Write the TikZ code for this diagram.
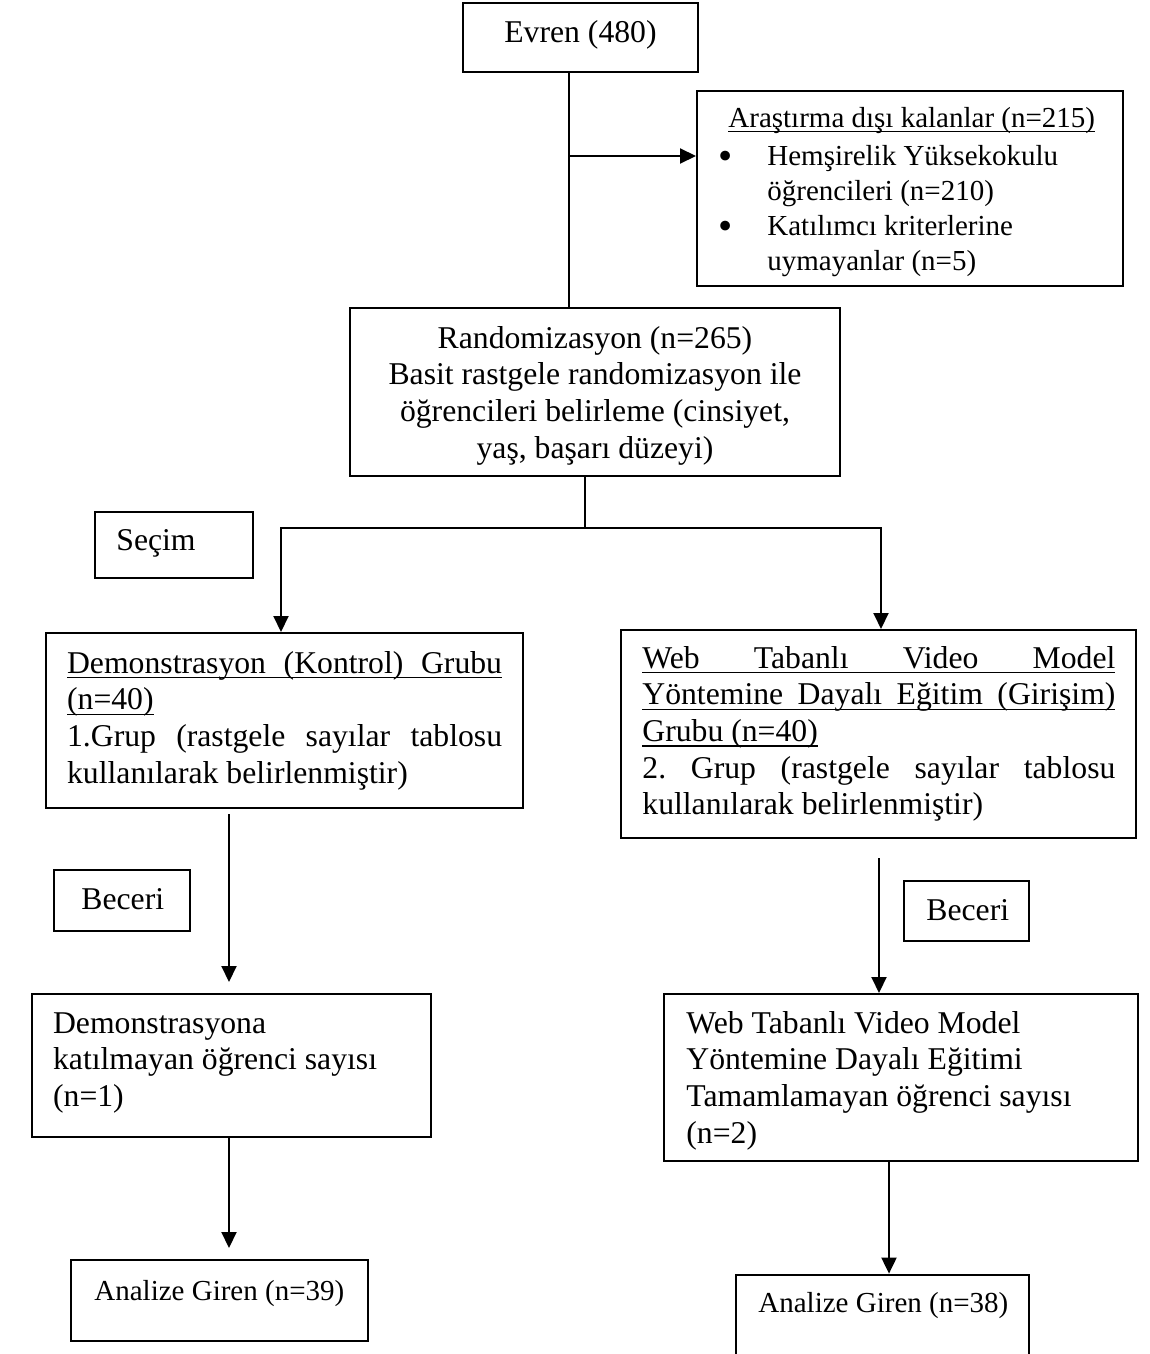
\documentclass[tikz,border=0pt]{standalone}
\usepackage{fontspec}
\usepackage{graphicx}
\setmainfont{Liberation Serif}
\usetikzlibrary{arrows.meta,calc}
\newcommand\fa{\fontsize{15.85pt}{18.35pt}\selectfont}
\newcommand\fb{\fontsize{14.5pt}{17.5pt}\selectfont}
\newcommand\myul[1]{\setbox0=\hbox{#1}\rlap{\rule[-2.7pt]{\wd0}{0.75pt}}\box0}
\newcommand\vlines[1]{\vtop{\lineskiplimit=-100pt\relax #1}}
\newcommand\bul{\hbox to 24pt{\hskip-0.6pt\raisebox{-2.4pt}{\scalebox{1.4}{•}}\hfil}}
\newcommand\mkbox[5]{\node[boxst, minimum width={((#4)-(#2))*0.5pt}, minimum height={((#5)-(#3))*0.5pt}] (#1) at ({((#2)+(#4))/2},{((#3)+(#5))/2}) {};}
\begin{document}
\begin{tikzpicture}[x=0.5pt, y=-0.5pt,
  boxst/.style={draw, line width=1pt, inner sep=0pt, rectangle},
  txt/.style={inner sep=0pt, font=\fa},
  ln/.style={line width=1pt},
  thinln/.style={line width=0.55pt},
  arr/.style={line width=1pt, -{Triangle[length=8pt,width=7.5pt]}}]
\fill[white] (0,0) rectangle (1150,1354);
\useasboundingbox (0,0) rectangle (1150,1354);

% boxes
\mkbox{evren}{463}{3}{698}{72}
\node[txt, anchor=base] (evrent) at (580.5,42.7) {Evren (480)};

\mkbox{arast}{697}{91}{1123}{285.5}
\node[txt, font=\fb, anchor=base west] (arasth) at (728,127) {\myul{Araştırma dışı kalanlar (n=215)}};
\node[txt, font=\fb, anchor=base west] (arastl) at (719,165) {\vlines{%
\hbox{\bul Hemşirelik Yüksekokulu}
\hbox{\kern24pt öğrencileri (n=210)}
\hbox{\bul Katılımcı kriterlerine}
\hbox{\kern24pt uymayanlar (n=5)}}};

\mkbox{rand}{350}{308}{840}{476}
\node[txt, anchor=base] (randt) at (595,348) {\vlines{%
\hbox to 230pt{\hfil Randomizasyon (n=265)\hfil}
\hbox to 230pt{\hfil Basit rastgele randomizasyon ile\hfil}
\hbox to 230pt{\hfil öğrencileri belirleme (cinsiyet,\hfil}
\hbox to 230pt{\hfil yaş, başarı düzeyi)\hfil}}};

\mkbox{secim}{95}{512}{253}{578}
\node[txt, anchor=base west] (secimt) at (116,550) {Seçim};

\mkbox{demo}{46}{633}{523}{808}
\node[txt, anchor=base west] (demot) at (66.7,673) {\vlines{%
\hbox{\myul{\hbox to 217.5pt{Demonstrasyon\hfill (Kontrol)\hfill Grubu}}}
\hbox{\myul{(n=40)}}
\hbox to 217.5pt{1.Grup\hfill (rastgele\hfill sayılar\hfill tablosu}
\hbox{kullanılarak belirlenmiştir)}}};

\mkbox{web}{621}{630}{1136}{837.5}
\node[txt, anchor=base west] (webt) at (642,668) {\vlines{%
\hbox{\myul{\hbox to 236.5pt{Web\hfill Tabanlı\hfill Video\hfill Model}}}
\hbox{\myul{\hbox to 236.5pt{Yöntemine\hfill Dayalı\hfill Eğitim\hfill (Girişim)}}}
\hbox{\myul{Grubu (n=40)}}
\hbox to 236.5pt{2.\hfill Grup\hfill (rastgele\hfill sayılar\hfill tablosu}
\hbox{kullanılarak belirlenmiştir)}}};

\mkbox{becl}{54}{870}{190}{931}
\node[txt, anchor=base west] (beclt) at (81,909.5) {Beceri};
\mkbox{becr}{904}{880.6}{1029}{940.6}
\node[txt, anchor=base west] (becrt) at (926,920) {Beceri};

\mkbox{demob}{31.7}{994}{431}{1137}
\node[txt, anchor=base west] (demobt) at (52.7,1033) {\vlines{%
\hbox{Demonstrasyona}
\hbox{katılmayan öğrenci sayısı}
\hbox{(n=1)}}};

\mkbox{webb}{664}{994}{1138}{1161}
\node[txt, anchor=base west] (webbt) at (686,1033) {\vlines{%
\hbox{Web Tabanlı Video Model}
\hbox{Yöntemine Dayalı Eğitimi}
\hbox{Tamamlamayan öğrenci sayısı}
\hbox{(n=2)}}};

\mkbox{anl}{70.7}{1260}{368.3}{1340.6}
\node[txt, font=\fb, anchor=base west] (anlt) at (94,1300) {Analize Giren (n=39)};
\mkbox{anr}{736}{1274.6}{1029}{1380}
\node[txt, font=\fb, anchor=base west] (anrt) at (758,1312) {Analize Giren (n=38)};

% connectors
\coordinate (j1) at (569,156);
\draw[ln] (evren.south -| j1) -- (rand.north -| j1);
\draw[arr] (j1) -- (arast.west |- j1);

\coordinate (rs) at (585,528);
\coordinate (hl) at (281,528);
\coordinate (hr) at (881,528);
\draw[thinln] (rand.south -| rs) -- (rs);
\draw[arr] (rs) -- (hl) -- (demo.north -| hl);
\draw[arr] (rs) -- (hr) -- (web.north -| hr);

\coordinate (l1) at (229,814);
\draw[arr] (l1) -- ($(demob.north -| l1)+(0,-11)$);
\draw[arr] (demob.south -| l1) -- ($(anl.north -| l1)+(0,-11)$);

\coordinate (r1) at (879,858);
\draw[arr] (r1) -- (webb.north -| r1);
\coordinate (r2) at (889,1161);
\draw[arr] (webb.south -| r2) -- (anr.north -| r2);
\end{tikzpicture}
\end{document}
